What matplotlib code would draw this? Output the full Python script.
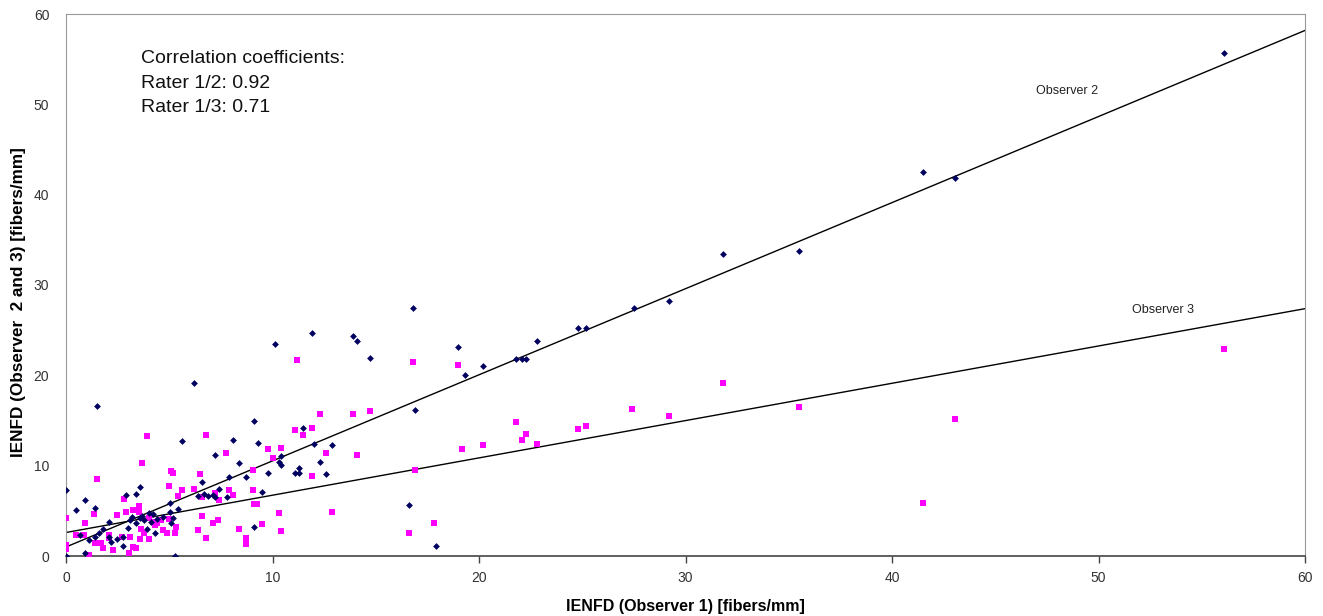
import matplotlib
matplotlib.use("Agg")
import matplotlib.pyplot as plt
import numpy as np

plt.rcParams['font.family'] = ['Liberation Sans', 'DejaVu Sans']

# Observer 2 vs Observer 1 (blue diamonds)
x_obs2 = [0.0, 0.9, 0.5, 1.4, 2.9, 3.4, 3.6, 2.1, 1.8, 1.6, 1.4, 1.1, 2.1, 2.45, 2.75,
          2.2, 2.75, 3.1, 3.2, 3.6, 3.0, 3.4, 4.0, 4.2, 4.1, 4.4, 4.7, 5.05, 5.4, 5.05,
          5.2, 5.1, 4.3, 3.9, 0.9, 0.0, 5.3, 0.7, 3.7, 3.8,
          7.2, 8.4, 7.9, 8.7, 9.8, 10.3, 10.4, 10.4, 11.3, 11.1, 11.3,
          6.6, 7.4, 6.4, 6.7, 6.9, 7.1, 7.2, 7.8, 9.5, 9.1,
          1.5, 6.2, 9.1, 5.6, 8.1, 9.3, 11.5, 12.0, 12.9, 12.3, 12.6, 16.9, 16.6, 17.9,
          10.1, 11.9, 13.9, 14.1, 14.7, 16.8, 19.0, 19.3, 20.2, 21.8, 22.1, 22.3, 22.8,
          24.8, 25.2, 27.5, 29.2, 31.8, 35.5, 41.5, 43.05, 56.1]
y_obs2 = [7.3, 6.2, 5.1, 5.3, 6.8, 6.9, 7.6, 3.8, 3.0, 2.5, 2.1, 1.8, 2.1, 1.9, 2.1,
          1.6, 1.1, 4.0, 4.3, 4.2, 3.1, 3.6, 4.8, 4.7, 3.8, 4.1, 4.35, 5.9, 5.2, 4.9,
          4.2, 3.7, 2.5, 3.0, 0.3, 0.0, 0.0, 2.3, 4.4, 4.0,
          11.2, 10.3, 8.8, 8.8, 9.2, 10.4, 11.1, 10.1, 9.7, 9.2, 9.2,
          8.2, 7.4, 6.6, 6.9, 6.6, 6.8, 6.5, 6.5, 7.1, 3.2,
          16.6, 19.2, 14.9, 12.7, 12.8, 12.5, 14.2, 12.4, 12.3, 10.4, 9.1, 16.2, 5.6, 1.1,
          23.5, 24.7, 24.4, 23.8, 21.9, 27.4, 23.1, 20.0, 21.0, 21.8, 21.8, 21.8, 23.8,
          25.2, 25.2, 27.4, 28.2, 33.4, 33.8, 42.5, 41.8, 55.7]

# Observer 3 vs Observer 1 (magenta squares)
x_obs3 = [3.7, 5.1, 5.2, 1.5, 5.0, 5.6, 5.4, 2.8, 0.0, 1.35, 0.9, 0.5, 0.85, 0.0, 0.0,
          1.1, 2.45, 2.9, 3.25, 3.55, 3.55, 4.0, 4.2, 4.4, 4.6, 4.3, 3.65, 3.8, 4.0, 3.6,
          3.25, 3.4, 3.05, 2.3, 1.8, 1.7, 1.4, 2.1, 2.1, 2.7, 3.1, 4.7, 4.9, 5.3, 5.35, 5.0,
          7.75, 9.8, 10.4, 10.0, 9.05, 6.5, 6.2, 7.2, 7.9, 8.1, 9.05, 6.6, 7.4, 9.1, 9.25,
          10.3, 6.6, 7.35, 7.1, 9.5, 6.4, 8.4, 10.4, 6.8, 8.7, 8.7,
          3.9, 6.8, 11.1, 11.5, 11.2, 16.8, 19.0, 12.3, 13.9, 14.7, 11.9, 12.6, 14.1, 11.9,
          16.9, 12.9, 16.6, 17.8, 19.2, 20.2, 21.8, 22.1, 22.3, 22.8, 24.8, 25.2, 27.4,
          29.2, 31.8, 35.5, 41.5, 43.05, 56.1]
y_obs3 = [10.3, 9.4, 9.2, 8.5, 7.8, 7.3, 6.6, 6.3, 4.2, 4.7, 3.7, 2.3, 2.3, 1.2, 0.8,
          0.1, 4.5, 4.9, 5.1, 5.5, 4.9, 4.2, 3.8, 3.6, 4.0, 3.4, 3.0, 2.5, 1.9, 1.9,
          1.0, 0.9, 0.3, 0.7, 0.9, 1.4, 1.4, 2.3, 2.0, 2.1, 2.1, 2.9, 2.5, 2.5, 3.2, 4.1,
          11.4, 11.8, 12.0, 10.8, 9.5, 9.1, 7.4, 7.0, 7.3, 6.8, 7.3, 6.5, 6.2, 5.8, 5.8,
          4.8, 4.4, 4.0, 3.7, 3.5, 2.9, 3.0, 2.8, 2.0, 2.0, 1.3,
          13.3, 13.4, 13.9, 13.4, 21.7, 21.5, 21.1, 15.7, 15.7, 16.0, 14.2, 11.4, 11.2, 8.9,
          9.5, 4.9, 2.5, 3.7, 11.8, 12.3, 14.8, 12.8, 13.5, 12.4, 14.1, 14.4, 16.3,
          15.5, 19.2, 16.5, 5.9, 15.2, 22.9]

# linear trend lines (slope, intercept)
fit_obs2 = (0.953, 1.0)
fit_obs3 = (0.413, 2.6)
line_x = [0, 60]

corr_lines = ['Correlation coefficients:', 'Rater 1/2: 0.92', 'Rater 1/3: 0.71']

fig = plt.figure(figsize=(13.23, 6.16), dpi=100)
ax = fig.add_axes([66 / 1323, 60 / 616, 1239 / 1323, 542 / 616])

ax.scatter(x_obs3, y_obs3, marker='s', s=14, color='#ff00ff', linewidths=0, zorder=3)
ax.scatter(x_obs2, y_obs2, marker='D', s=12, color='#000060', linewidths=0, zorder=4)

lx = np.array(line_x)
ax.plot(lx, fit_obs2[0] * lx + fit_obs2[1], color='black', lw=1.0, zorder=2)
ax.plot(lx, fit_obs3[0] * lx + fit_obs3[1], color='black', lw=1.0, zorder=2)

ax.set_xlim(0, 60)
ax.set_ylim(0, 60)
ax.set_xticks(range(0, 61, 10))
ax.set_yticks(range(0, 61, 10))
ax.tick_params(axis='x', length=5, width=1, colors='#444444', labelsize=10, pad=6, labelcolor='#333333')
ax.tick_params(axis='y', length=0, labelsize=10, pad=12, labelcolor='#333333')

for side in ['top', 'right', 'left']:
    ax.spines[side].set_color('#999999')
ax.spines['bottom'].set_color('#444444')
ax.spines['bottom'].set_linewidth(1.2)

ax.set_xlabel('IENFD (Observer 1) [fibers/mm]', fontsize=11.5, fontweight='bold', labelpad=10)
ax.set_ylabel('IENFD (Observer  2 and 3) [fibers/mm]', fontsize=12.3, fontweight='bold')
ax.yaxis.set_label_coords(-0.032, 0.469)

# correlation note, one line at a time
for i, line in enumerate(corr_lines):
    ax.text(3.65, 55.1 - 2.75 * i, line, fontsize=14, va='center', ha='left', color='#111111')

ax.text(48.5, 51.5, 'Observer 2', fontsize=9, ha='center', va='center', color='#222222')
ax.text(53.1, 27.2, 'Observer 3', fontsize=9, ha='center', va='center', color='#222222')

fig.savefig('out.png', dpi=100)
